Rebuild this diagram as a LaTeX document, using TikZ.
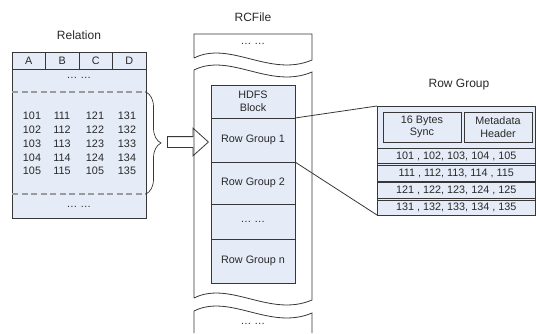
\documentclass[tikz,border=0pt]{standalone}
\usepackage{fontspec}
\setmainfont{Liberation Sans}
\usetikzlibrary{positioning, arrows, shapes.arrows, decorations.pathreplacing}

\definecolor{celda}{RGB}{230,236,247}
\definecolor{borde}{RGB}{55,55,55}
\definecolor{texto}{RGB}{40,40,40}
\definecolor{guion}{RGB}{155,155,155}

\begin{document}
\begin{tikzpicture}[x=1pt, y=-1pt, line width=0.8pt, draw=borde,
                  font=\fontsize{10.8}{12.5}\selectfont, every node/.style={text=texto},
                  titulo/.style={font=\fontsize{12}{14}\selectfont},
                  cell/.style={draw=borde, fill=celda, outer sep=0pt, inner sep=0pt, align=center},
                  hcell/.style={cell, minimum width=33.5, minimum height=17},
                  rgcell/.style={cell, minimum width=84},
                  fila/.style={cell, minimum width=158.5, minimum height=15.5},
                  selec/.style={draw=guion, line width=1.6pt, dash pattern=on 6pt off 3.5pt},
                  llave/.style={decorate, decoration={brace, amplitude=15}, line width=0.7pt},
                  flecha/.style={single arrow, draw=borde, fill=white, minimum height=41,
                  inner sep=5pt, single arrow head extend=8.5pt, single arrow tip angle=84}]
                  
                  \useasboundingbox (0,0) rectangle (536,333);
                  
                  % Tabla de la relación.
                  \node[titulo] (reltitle) at (79,35) {Relation};
                  \node[hcell] (colA) at (28.75,60.5) {A};
                  \node[hcell, right=0pt of colA] (colB) {B};
                  \node[hcell, right=0pt of colB] (colC) {C};
                  \node[hcell, right=0pt of colC] (colD) {D};
                  \node[cell, minimum width=134, minimum height=149,
                  below right=0pt of colA.south west] (relbody) {};
                  \node (reldots1) at (79,78) {\dots\ \dots};
                  \node (reldots2) at (79,207) {\dots\ \dots};
                  
                  % Filas seleccionadas.
                  \coordinate (sel1) at (12,92);
                  \coordinate (sel2) at (146,92);
                  \coordinate (sel3) at (12,194);
                  \coordinate (sel4) at (146,194);
                  \draw[selec] (sel1) -- (sel2);
                  \draw[selec] (sel3) -- (sel4);
                  \draw[llave] (sel2) -- (sel4);
                  \foreach \a/\b/\c/\d [count=\r from 0] in {101/111/121/131,
                      102/112/122/132, 103/113/123/133, 104/114/124/134, 105/115/105/135}
                  {
                      \node (va\r) at (32,116+13.8*\r) {\a};
                      \node (vb\r) at (62,116+13.8*\r) {\b};
                      \node (vc\r) at (95,116+13.8*\r) {\c};
                      \node (vd\r) at (127,116+13.8*\r) {\d};
                  }
                  
                  % Flecha hacia el RCFile.
                  \node[flecha, anchor=tip] (haciarc) at (209,142) {};
                  
                  % El RCFile cortado arriba y abajo.
                  \node[titulo] (rctitle) at (253,17) {RCFile};
                  \draw (194,58) -- (194,34) -- (312,34) -- (312,60)
                  .. controls (270,78) and (230,40) .. (194,58);
                  \draw (194,298) -- (194,70) .. controls (230,52) and (270,90) .. (312,72)
                  -- (312,300) .. controls (270,318) and (230,280) .. (194,298);
                  \draw (194,333) -- (194,311) .. controls (230,293) and (270,331) .. (312,313)
                  -- (312,333);
                  \node (rcdots1) at (253,44) {\dots\ \dots};
                  \node (rcdots2) at (253,324) {\dots\ \dots};
                  
                  % Bloque HDFS con sus grupos de filas.
                  \node[rgcell, minimum height=33] (hdfs) at (253,101.5) {HDFS\\Block};
                  \node[rgcell, minimum height=44, below=0pt of hdfs] (rg1) {Row Group 1};
                  \node[rgcell, minimum height=42, below=0pt of rg1] (rg2) {Row Group 2};
                  \node[rgcell, minimum height=35, below=0pt of rg2] (rgdots) {\dots\ \dots};
                  \node[rgcell, minimum height=44, below=0pt of rgdots] (rgn) {Row Group n};
                  
                  % Detalle de un grupo de filas.
                  \node[titulo] (rgtitle) at (459,85) {Row Group};
                  \node[cell, minimum width=158.5, minimum height=109,
                  anchor=north west] (rgbox) at (377,106) {};
                  \node[cell, minimum width=78, minimum height=30] (sync) at (422,127)
                  {16 Bytes\\Sync};
                  \node[cell, minimum width=68, minimum height=30, right=3pt of sync] (meta)
                  {Metadata\\Header};
                  \node[fila, anchor=north west] (fila1) at (377,148.3) {101 , 102, 103, 104 , 105};
                  \node[fila, below=1.7pt of fila1] (fila2) {111 , 112, 113, 114 , 115};
                  \node[fila, below=1.7pt of fila2] (fila3) {121 , 122, 123, 124 , 125};
                  \node[fila, below=1.7pt of fila3] (fila4) {131 , 132, 133, 134 , 135};
                  
                  % Líneas del zoom.
                  \draw (hdfs.south east) -- (rgbox.north west);
                  \draw (rg1.south east) -- (rgbox.south west);
                
\end{tikzpicture}
\end{document}
